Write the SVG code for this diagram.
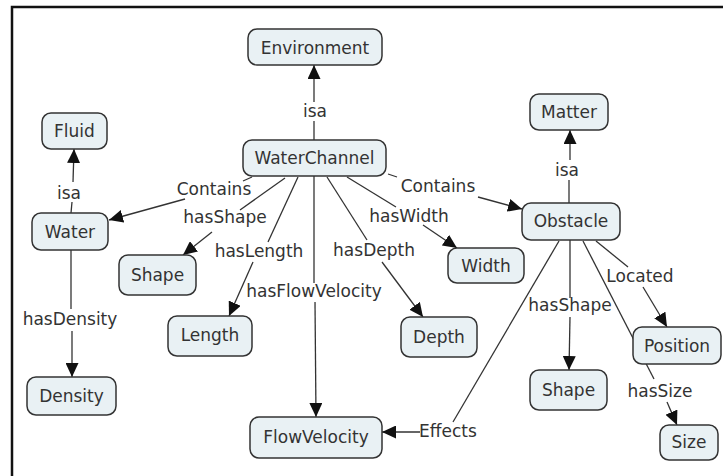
<svg xmlns="http://www.w3.org/2000/svg" width="723" height="476" viewBox="0 0 723 476">
<style>
.node rect{fill:#e9f1f4;stroke:#333;stroke-width:1.5}
text{font-family:"DejaVu Sans",Verdana,sans-serif;font-size:17px;fill:#333;text-anchor:middle}
.conn line{stroke:#333;stroke-width:1.3;fill:none}
.arr{marker-end:url(#ah)}
</style>
<defs>
<marker id="ah" markerUnits="userSpaceOnUse" markerWidth="15" markerHeight="13" refX="14" refY="6.5" orient="auto">
<path d="M0,0 L14,6.5 L0,13 z" fill="#111"/>
</marker>
</defs>
<rect width="723" height="476" fill="#fff"/>
<path d="M12,476 V7 H723" fill="none" stroke="#111" stroke-width="2.5"/>

<g id="connectors" class="conn">
<!-- WaterChannel isa Environment -->
<line x1="314" y1="140" x2="314" y2="121"/>
<line class="arr" x1="314" y1="102" x2="314" y2="65"/>
<!-- Water isa Fluid -->
<line x1="71" y1="213" x2="72" y2="202"/>
<line class="arr" x1="73" y1="182" x2="74" y2="149"/>
<!-- WaterChannel Contains Water -->
<line x1="252" y1="177" x2="243" y2="181"/>
<line class="arr" x1="185" y1="199" x2="109" y2="220"/>
<!-- WaterChannel hasShape Shape -->
<line x1="285" y1="178" x2="240" y2="210"/>
<line class="arr" x1="212" y1="232" x2="183" y2="255"/>
<!-- WaterChannel hasLength Length -->
<line x1="298" y1="177" x2="268" y2="242"/>
<line class="arr" x1="253" y1="262" x2="229" y2="316"/>
<!-- WaterChannel hasFlowVelocity FlowVelocity -->
<line x1="314" y1="176" x2="314" y2="283"/>
<line class="arr" x1="315" y1="302" x2="316" y2="417"/>
<!-- WaterChannel hasDepth Depth -->
<line x1="327" y1="177" x2="367" y2="240"/>
<line class="arr" x1="382" y1="262" x2="423" y2="317"/>
<!-- WaterChannel hasWidth Width -->
<line x1="347" y1="177" x2="396" y2="207"/>
<line class="arr" x1="423" y1="225" x2="457" y2="248"/>
<!-- WaterChannel Contains Obstacle -->
<line x1="388" y1="174" x2="397" y2="177"/>
<line class="arr" x1="478" y1="197" x2="522" y2="209"/>
<!-- Obstacle isa Matter -->
<line x1="569" y1="203" x2="569" y2="180"/>
<line class="arr" x1="570" y1="160" x2="570" y2="130"/>
<!-- Obstacle hasShape Shape -->
<line x1="570" y1="240" x2="570" y2="298"/>
<line class="arr" x1="570" y1="317" x2="569" y2="370"/>
<!-- Obstacle Located Position -->
<line x1="596" y1="241" x2="628" y2="267"/>
<line class="arr" x1="643" y1="287" x2="667" y2="327"/>
<!-- Obstacle hasSize Size (passes behind Position) -->
<line x1="583" y1="241" x2="654" y2="379"/>
<line class="arr" x1="667" y1="402" x2="677" y2="425"/>
<!-- Obstacle Effects FlowVelocity -->
<line x1="559" y1="241" x2="453" y2="422"/>
<line class="arr" x1="420" y1="432" x2="382" y2="432"/>
<!-- Water hasDensity Density -->
<line x1="71" y1="250" x2="71" y2="309"/>
<line class="arr" x1="72" y1="331" x2="72" y2="377"/>
</g>

<g id="labels">
<text x="315" y="117">isa</text>
<text x="69" y="199">isa</text>
<text x="214" y="195">Contains</text>
<text x="225" y="223">hasShape</text>
<text x="259" y="257">hasLength</text>
<text x="314" y="297">hasFlowVelocity</text>
<text x="374" y="256">hasDepth</text>
<text x="409" y="222">hasWidth</text>
<text x="438" y="192">Contains</text>
<text x="567" y="176">isa</text>
<text x="570" y="311">hasShape</text>
<text x="640" y="282">Located</text>
<text x="660" y="397">hasSize</text>
<text x="448" y="437">Effects</text>
<text x="70" y="325">hasDensity</text>
</g>

<g id="Environment" class="node"><rect x="248" y="29" width="134" height="36" rx="9"/><text x="315" y="54">Environment</text></g>
<g id="WaterChannel" class="node"><rect x="243" y="140" width="143" height="36" rx="9"/><text x="314.5" y="164">WaterChannel</text></g>
<g id="Fluid" class="node"><rect x="42" y="113" width="65" height="36" rx="9"/><text x="74.5" y="137">Fluid</text></g>
<g id="Water" class="node"><rect x="32" y="213" width="76" height="37" rx="9"/><text x="70" y="238">Water</text></g>
<g id="Matter" class="node"><rect x="530" y="94" width="78" height="36" rx="9"/><text x="569" y="118">Matter</text></g>
<g id="Obstacle" class="node"><rect x="522" y="203" width="98" height="37" rx="9"/><text x="571" y="227">Obstacle</text></g>
<g id="Shape1" class="node"><rect x="119" y="255" width="77" height="40" rx="9"/><text x="157.5" y="281">Shape</text></g>
<g id="Length" class="node"><rect x="168" y="316" width="84" height="40" rx="9"/><text x="210" y="341">Length</text></g>
<g id="Density" class="node"><rect x="27" y="377" width="89" height="38" rx="9"/><text x="71.5" y="402">Density</text></g>
<g id="Width" class="node"><rect x="448" y="248" width="76" height="35" rx="9"/><text x="486" y="272">Width</text></g>
<g id="Depth" class="node"><rect x="401" y="317" width="76" height="40" rx="9"/><text x="439" y="343">Depth</text></g>
<g id="FlowVelocity" class="node"><rect x="250" y="417" width="132" height="41" rx="9"/><text x="316" y="443">FlowVelocity</text></g>
<g id="Shape2" class="node"><rect x="530" y="370" width="77" height="40" rx="9"/><text x="568.5" y="396">Shape</text></g>
<g id="Position" class="node"><rect x="633" y="327" width="88" height="37" rx="9"/><text x="677" y="352">Position</text></g>
<g id="Size" class="node"><rect x="660" y="425" width="58" height="35" rx="9"/><text x="689" y="448">Size</text></g>
</svg>
